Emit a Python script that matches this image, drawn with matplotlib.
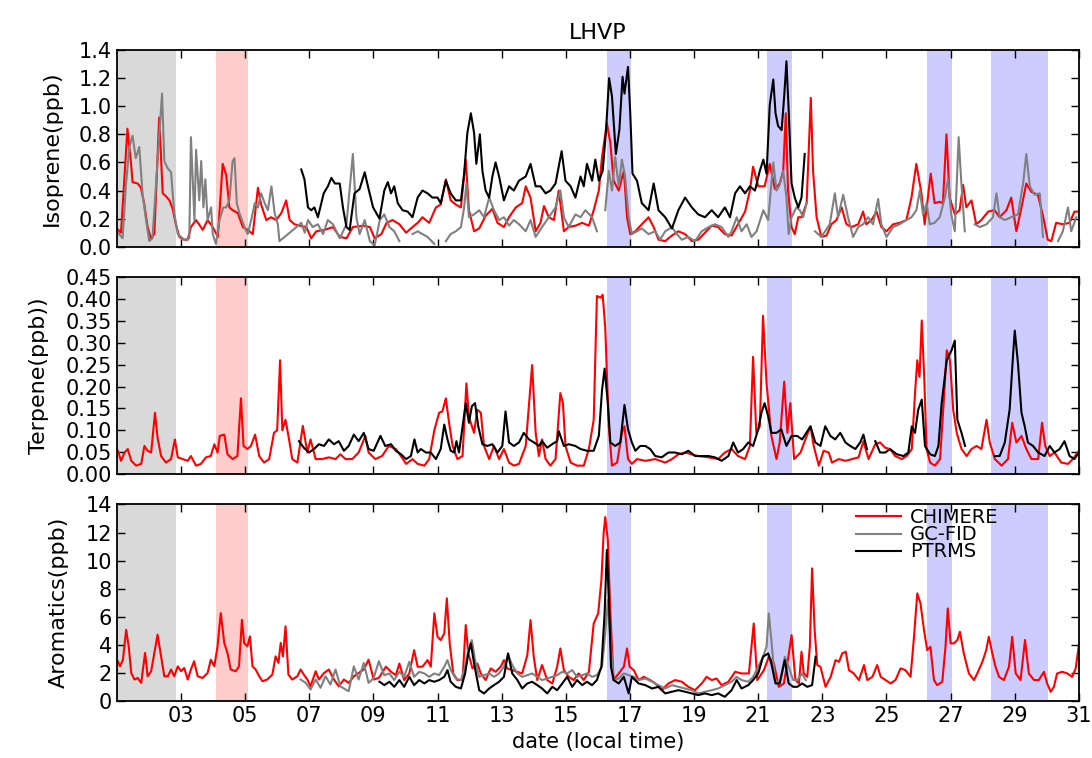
import matplotlib.pyplot as plt
import numpy as np

nan = float('nan')

# ---- Isoprene (top panel) ----
iso_chim_t = [1.0, 1.13, 1.33, 1.44, 1.49, 1.65, 1.75, 1.85, 1.96, 2.06, 2.17, 2.32, 2.43, 2.53, 2.64, 2.74,
              2.84, 2.95, 3.10, 3.21, 3.31, 3.47, 3.68, 3.83, 3.99, 4.15, 4.30, 4.41, 4.51, 4.61, 4.77, 4.93,
              5.08, 5.24, 5.40, 5.50, 5.66, 5.81, 5.97, 6.13, 6.28, 6.39, 6.54, 6.70, 6.91, 7.06, 7.22, 7.48,
              7.74, 7.95, 8.16, 8.36, 8.68, 8.89, 9.04, 9.25, 9.41, 9.60, 9.81, 10.02, 10.22, 10.38, 10.53,
              10.74, 10.95, 11.10, 11.26, 11.41, 11.57, 11.73, 11.88, 11.98, 12.14, 12.30, 12.50, 12.71, 12.87,
              13.07, 13.23, 13.44, 13.64, 13.75, 13.90, 14.06, 14.21, 14.32, 14.47, 14.63, 14.78, 14.94, 15.09,
              15.30, 15.51, 15.72, 15.87, 16.03, 16.13, 16.28, 16.39, 16.49, 16.65, 16.81, 16.91, 17.01, 17.17,
              17.37, 17.58, 17.74, 17.89, 18.10, 18.31, 18.51, 18.72, 18.93, 19.13, 19.34, 19.55, 19.75, 19.96,
              20.17, 20.37, 20.59, 20.74, 20.84, 21.0, 21.2, 21.36, 21.52, 21.67, 21.78, 21.86, 21.93, 22.04,
              22.14, 22.25, 22.35, 22.51, 22.64, 22.71, 22.82, 22.97, 23.13, 23.28, 23.44, 23.60, 23.75, 23.91,
              24.12, 24.27, 24.37, 24.53, 24.69, 24.84, 25.0, 25.21, 25.41, 25.62, 25.78, 25.93, 26.09, 26.19,
              26.38, 26.50, 26.66, 26.76, 26.87, 26.97, 27.13, 27.28, 27.39, 27.49, 27.65, 27.80, 27.96, 28.17,
              28.37, 28.53, 28.74, 28.89, 29.05, 29.21, 29.36, 29.52, 29.72, 29.88, 30.03, 30.14, 30.29, 30.50,
              30.71, 30.86, 31.0]
iso_chim_v = [0.13, 0.10, 0.84, 0.60, 0.46, 0.45, 0.42, 0.31, 0.14, 0.06, 0.09, 0.92, 0.38, 0.36, 0.33, 0.27,
              0.16, 0.07, 0.05, 0.05, 0.14, 0.19, 0.12, 0.19, 0.14, 0.07, 0.59, 0.51, 0.28, 0.26, 0.24, 0.14,
              0.12, 0.09, 0.42, 0.30, 0.19, 0.21, 0.19, 0.24, 0.33, 0.19, 0.16, 0.15, 0.14, 0.06, 0.11, 0.12,
              0.14, 0.07, 0.06, 0.14, 0.15, 0.14, 0.06, 0.09, 0.17, 0.19, 0.16, 0.10, 0.14, 0.17, 0.21,
              0.17, 0.28, 0.30, 0.48, 0.33, 0.30, 0.28, 0.62, 0.26, 0.11, 0.13, 0.22, 0.27, 0.17,
              0.14, 0.21, 0.28, 0.31, 0.43, 0.35, 0.11, 0.17, 0.29, 0.21, 0.19, 0.40, 0.11, 0.14,
              0.15, 0.17, 0.15, 0.26, 0.40, 0.64, 0.88, 0.74, 0.47, 0.40, 0.54, 0.21, 0.09, 0.11,
              0.16, 0.21, 0.14, 0.05, 0.04, 0.08, 0.11, 0.09, 0.04, 0.05, 0.10, 0.15, 0.14, 0.09,
              0.08, 0.16, 0.25, 0.40, 0.57, 0.43, 0.43, 0.59, 0.41, 0.45, 0.54, 0.95, 0.40, 0.14,
              0.09, 0.21, 0.21, 0.31, 1.06, 0.54, 0.21, 0.07, 0.08, 0.16, 0.19, 0.28, 0.16, 0.14,
              0.16, 0.25, 0.16, 0.19, 0.25, 0.14, 0.11, 0.16, 0.17, 0.19, 0.35, 0.59, 0.38, 0.16,
              0.52, 0.31, 0.32, 0.31, 0.80, 0.35, 0.23, 0.26, 0.44, 0.28, 0.33, 0.16, 0.19, 0.25,
              0.26, 0.21, 0.26, 0.35, 0.11, 0.28, 0.45, 0.39, 0.37, 0.22, 0.05, 0.04, 0.17, 0.16,
              0.17, 0.25, 0.25]

iso_gc_t = [1.0, 1.18, 1.28, 1.39, 1.49, 1.59, 1.70, 1.80, 1.91, 2.01, 2.11, 2.27, 2.41, 2.48, 2.58, 2.69,
            2.79, 2.90, 3.10, 3.26, 3.31, 3.42, 3.47, 3.57, 3.63, 3.70, 3.76, 3.83, 3.94, 3.99, 4.09, 4.20,
            4.32, 4.41, 4.51, 4.61, 4.67, 4.74, 4.82, 4.98, 5.08, 5.19, 5.30, 5.40, 5.50, 5.61, 5.71, 5.82,
            5.92, 6.02, 6.07, 6.18, 6.60, 6.75, 6.86, 6.96, 7.11, 7.27, 7.43, 7.58, 7.74, 7.95, 8.16, 8.36,
            8.47, 8.57, 8.73, 8.89, 9.04, 9.20, 9.34, 9.50, 9.65, 9.81, 10.0, 10.22, 10.38, 10.53, 10.69,
            10.90, 11.1, 11.26, 11.41, 11.57, 11.73, 11.83, 11.90, 11.98, 12.14, 12.30, 12.45, 12.61, 12.76,
            12.92, 13.07, 13.23, 13.38, 13.54, 13.75, 13.90, 14.06, 14.26, 14.47, 14.68, 14.83, 14.94, 15.09,
            15.30, 15.46, 15.61, 15.82, 15.97, 16.1, 16.23, 16.34, 16.44, 16.54, 16.65, 16.75, 16.85, 16.96,
            17.06, 17.22, 17.37, 17.58, 17.79, 17.94, 18.10, 18.31, 18.46, 18.62, 18.82, 19.03, 19.24, 19.45,
            19.65, 19.86, 20.07, 20.17, 20.33, 20.48, 20.64, 20.79, 20.95, 21.16, 21.31, 21.47, 21.57, 21.67,
            21.78, 21.88, 21.95, 22.04, 22.19, 22.30, 22.40, 22.51, 22.65, 22.77, 22.97, 23.23, 23.39, 23.49,
            23.65, 23.80, 23.96, 24.12, 24.27, 24.43, 24.58, 24.74, 24.84, 25.0, 25.21, 25.41, 25.62, 25.78,
            25.93, 26.04, 26.14, 26.25, 26.35, 26.50, 26.66, 26.82, 26.92, 27.02, 27.13, 27.25, 27.33, 27.44,
            27.6, 27.75, 27.91, 28.12, 28.32, 28.43, 28.53, 28.69, 28.89, 29.10, 29.26, 29.36, 29.47, 29.62,
            29.78, 29.88, 30.1, 30.35, 30.50, 30.66, 30.76, 30.92]
iso_gc_v = [0.11, 0.06, 0.43, 0.71, 0.79, 0.63, 0.71, 0.38, 0.19, 0.04, 0.06, 0.61, 1.09, 0.61, 0.56, 0.53,
            0.24, 0.09, 0.05, 0.06, 0.78, 0.19, 0.69, 0.33, 0.61, 0.28, 0.48, 0.19, 0.28, 0.09, 0.02, 0.19,
            0.28, 0.28, 0.33, 0.61, 0.63, 0.31, 0.24, 0.14, 0.09, 0.19, 0.31, 0.28, 0.38, 0.31, 0.26, 0.43,
            0.24, 0.16, 0.04, 0.06, 0.14, 0.17, 0.10, 0.19, 0.14, 0.16, 0.09, 0.19, 0.16, 0.06, 0.16, 0.66,
            0.21, 0.09, 0.19, 0.04, 0.01, 0.19, 0.23, 0.14, 0.11, 0.04, nan, 0.09, 0.11, 0.09, 0.07,
            0.02, nan, 0.04, 0.09, 0.11, 0.14, 0.28, 0.45, 0.21, 0.23, 0.26, 0.21, 0.35, 0.26,
            0.19, 0.21, 0.15, 0.19, 0.16, 0.11, 0.19, 0.07, 0.14, 0.21, 0.28, 0.40, 0.21, 0.14,
            0.23, 0.21, 0.26, 0.21, 0.11, nan, 0.26, 0.54, 0.40, 0.64, 0.43, 0.62, 0.50, 0.21,
            0.09, 0.11, 0.13, 0.09, 0.11, 0.05, 0.11, 0.14, 0.09, 0.05, 0.07, 0.04, 0.11, 0.14,
            0.16, 0.14, 0.07, 0.11, 0.21, 0.11, 0.16, 0.07, 0.11, 0.26, 0.19, 0.60, 0.40, 0.44,
            0.54, 0.35, 0.09, 0.21, 0.28, 0.26, 0.21, 0.31, nan, 0.11, 0.07, 0.16, 0.38, 0.21,
            0.37, 0.21, 0.07, 0.14, 0.16, 0.21, 0.16, 0.34, 0.16, 0.07, 0.14, 0.16, 0.19, 0.21,
            0.26, 0.40, 0.23, 0.31, 0.16, 0.17, 0.21, 0.35, 0.48, 0.23, 0.11, 0.78, 0.47, 0.11,
            nan, 0.16, 0.14, 0.16, 0.21, 0.38, 0.21, 0.19, 0.21, 0.23, 0.45, 0.66, 0.43, 0.37,
            0.38, 0.07, nan, 0.04, 0.11, 0.28, 0.11, 0.21]

iso_ptr_t = [6.75, 6.85, 6.96, 7.06, 7.16, 7.27, 7.45, 7.58, 7.69, 7.80, 7.95, 8.05, 8.16, 8.26, 8.41, 8.57,
             8.73, 8.83, 8.99, 9.19, 9.34, 9.45, 9.55, 9.65, 9.76, 9.91, 10.07, 10.22, 10.38, 10.53, 10.69,
             10.84, 11.0, 11.1, 11.26, 11.41, 11.57, 11.73, 11.83, 11.93, 12.04, 12.14, 12.21, 12.32, 12.40,
             12.50, 12.61, 12.71, 12.81, 12.92, 13.07, 13.23, 13.38, 13.54, 13.75, 13.90, 14.06, 14.21, 14.37,
             14.52, 14.68, 14.87, 14.99, 15.15, 15.30, 15.46, 15.56, 15.66, 15.82, 15.92, 16.03, 16.15, 16.25,
             16.35, 16.44, 16.56, 16.67, 16.77, 16.83, 16.94, 17.01, 17.08, 17.22, 17.37, 17.58, 17.74, 17.89,
             18.10, 18.31, 18.51, 18.72, 18.93, 19.13, 19.34, 19.55, 19.75, 19.96, 20.12, 20.28, 20.43, 20.59,
             20.74, 20.90, 21.05, 21.16, 21.26, 21.36, 21.47, 21.54, 21.62, 21.73, 21.81, 21.88, 21.95, 22.04,
             22.14, 22.25, 22.35, 22.45]
iso_ptr_v = [0.55, 0.48, 0.28, 0.26, 0.28, 0.21, 0.38, 0.43, 0.49, 0.45, 0.45, 0.28, 0.14, 0.12, 0.38, 0.41,
             0.53, 0.43, 0.28, 0.20, 0.40, 0.46, 0.38, 0.43, 0.31, 0.26, 0.25, 0.21, 0.35, 0.40, 0.38,
             0.35, 0.35, 0.31, 0.47, 0.38, 0.33, 0.33, 0.52, 0.81, 0.95, 0.81, 0.59, 0.80, 0.54,
             0.40, 0.35, 0.50, 0.60, 0.50, 0.33, 0.43, 0.40, 0.47, 0.50, 0.59, 0.43, 0.43, 0.38,
             0.40, 0.45, 0.68, 0.47, 0.43, 0.35, 0.50, 0.43, 0.59, 0.47, 0.62, 0.47, 0.54, 0.81,
             1.20, 1.07, 0.66, 0.83, 1.21, 1.09, 1.28, 0.95, 0.52, 0.47, 0.31, 0.26, 0.45, 0.26,
             0.21, 0.13, 0.26, 0.35, 0.28, 0.23, 0.21, 0.26, 0.21, 0.28, 0.21, 0.38, 0.43, 0.38,
             0.43, 0.40, 0.54, 0.62, 0.52, 1.01, 1.19, 0.95, 0.86, 0.83, 1.07, 1.32, 0.97, 0.45,
             0.35, 0.28, 0.35, 0.66]

# ---- Terpene (middle panel) ----
ter_chim_t = [1.03, 1.13, 1.24, 1.34, 1.45, 1.60, 1.76, 1.86, 1.96, 2.07, 2.19, 2.27, 2.38, 2.53, 2.69, 2.81,
              2.90, 3.05, 3.21, 3.31, 3.47, 3.62, 3.78, 3.93, 4.04, 4.14, 4.21, 4.35, 4.45, 4.61, 4.76, 4.87,
              4.95, 5.07, 5.18, 5.31, 5.44, 5.59, 5.75, 5.90, 6.0, 6.09, 6.16, 6.26, 6.37, 6.47, 6.63, 6.80,
              6.94, 7.04, 7.20, 7.40, 7.61, 7.82, 7.97, 8.13, 8.34, 8.54, 8.75, 8.85, 9.06, 9.27, 9.48, 9.70,
              9.86, 10.02, 10.22, 10.38, 10.59, 10.74, 10.90, 11.05, 11.15, 11.26, 11.36, 11.47, 11.62, 11.78,
              11.90, 11.98, 12.14, 12.24, 12.35, 12.45, 12.61, 12.76, 12.92, 13.07, 13.23, 13.38, 13.54, 13.75,
              13.85, 13.95, 14.06, 14.16, 14.26, 14.37, 14.52, 14.68, 14.83, 14.91, 14.99, 15.15, 15.35, 15.56,
              15.72, 15.87, 15.97, 16.08, 16.15, 16.23, 16.34, 16.44, 16.60, 16.75, 16.83, 16.94, 17.06, 17.22,
              17.48, 17.79, 18.10, 18.31, 18.51, 18.72, 18.93, 19.13, 19.45, 19.75, 19.96, 20.17, 20.37, 20.59,
              20.74, 20.84, 20.94, 21.05, 21.15, 21.26, 21.41, 21.57, 21.67, 21.81, 21.91, 22.0, 22.12, 22.32,
              22.47, 22.63, 22.73, 22.89, 23.04, 23.20, 23.30, 23.51, 23.72, 23.92, 24.13, 24.28, 24.44, 24.65,
              24.80, 24.96, 25.11, 25.27, 25.48, 25.63, 25.79, 25.89, 25.96, 26.03, 26.10, 26.18, 26.25, 26.36,
              26.51, 26.67, 26.77, 26.88, 26.98, 27.08, 27.19, 27.34, 27.50, 27.65, 27.81, 27.96, 28.12, 28.22,
              28.38, 28.59, 28.79, 28.92, 29.05, 29.21, 29.36, 29.52, 29.73, 29.85, 29.95, 30.09, 30.24, 30.45,
              30.66, 30.81, 31.0]
ter_chim_v = [0.053, 0.030, 0.049, 0.057, 0.030, 0.019, 0.023, 0.064, 0.053, 0.049, 0.140, 0.083, 0.041, 0.026,
              0.034, 0.079, 0.038, 0.034, 0.030, 0.041, 0.019, 0.023, 0.038, 0.041, 0.068, 0.049, 0.087, 0.090,
              0.045, 0.034, 0.041, 0.173, 0.064, 0.057, 0.064, 0.090, 0.041, 0.026, 0.034, 0.094, 0.100, 0.260,
              0.100, 0.124, 0.079, 0.034, 0.026, 0.110, 0.049, 0.079, 0.034, 0.034, 0.038, 0.034, 0.045, 0.034,
              0.034, 0.049, 0.087, 0.049, 0.034, 0.041, 0.064, 0.057, 0.041, 0.023, 0.034, 0.023, 0.019, 0.034,
              0.100, 0.140, 0.143, 0.173, 0.117, 0.064, 0.034, 0.041, 0.207, 0.130, 0.094, 0.147, 0.140, 0.064,
              0.034, 0.064, 0.034, 0.057, 0.026, 0.019, 0.023, 0.064, 0.155, 0.249, 0.094, 0.041, 0.079, 0.034,
              0.019, 0.034, 0.185, 0.162, 0.064, 0.026, 0.019, 0.019, 0.057, 0.124, 0.407, 0.403, 0.410, 0.335,
              0.109, 0.019, 0.026, 0.094, 0.109, 0.034, 0.023, 0.034, 0.030, 0.034, 0.026, 0.034, 0.045, 0.049,
              0.045, 0.041, 0.038, 0.034, 0.049, 0.057, 0.041, 0.034, 0.064, 0.268, 0.094, 0.109, 0.362, 0.207,
              0.087, 0.034, 0.072, 0.211, 0.094, 0.162, 0.034, 0.049, 0.079, 0.109, 0.064, 0.019, 0.053, 0.049,
              0.026, 0.034, 0.030, 0.034, 0.038, 0.075, 0.034, 0.068, 0.072, 0.060, 0.057, 0.041, 0.034, 0.041,
              0.057, 0.185, 0.260, 0.222, 0.351, 0.215, 0.057, 0.026, 0.019, 0.034, 0.147, 0.283, 0.260, 0.147,
              0.094, 0.057, 0.041, 0.057, 0.064, 0.057, 0.124, 0.072, 0.034, 0.019, 0.034, 0.117, 0.072, 0.087,
              0.057, 0.034, 0.034, 0.117, 0.064, 0.041, 0.049, 0.026, 0.023, 0.034, 0.053]

ter_ptr_t = [6.68, 6.83, 6.99, 7.15, 7.30, 7.46, 7.61, 7.77, 7.92, 8.08, 8.23, 8.39, 8.54, 8.70, 8.85, 9.01,
             9.22, 9.37, 9.55, 9.70, 9.86, 10.02, 10.17, 10.28, 10.38, 10.48, 10.64, 10.79, 10.95, 11.10, 11.21,
             11.31, 11.41, 11.52, 11.59, 11.67, 11.78, 11.88, 11.98, 12.07, 12.17, 12.27, 12.40, 12.55, 12.71,
             12.87, 13.02, 13.12, 13.23, 13.38, 13.54, 13.69, 13.85, 14.01, 14.16, 14.26, 14.42, 14.57, 14.73,
             14.78, 14.94, 15.09, 15.30, 15.46, 15.66, 15.87, 16.03, 16.13, 16.21, 16.31, 16.39, 16.54, 16.70,
             16.83, 16.94, 17.06, 17.17, 17.32, 17.48, 17.63, 17.79, 17.99, 18.20, 18.41, 18.62, 18.82, 19.03,
             19.24, 19.45, 19.65, 19.86, 20.07, 20.22, 20.37, 20.53, 20.69, 20.84, 21.0, 21.10, 21.2, 21.31,
             21.41, 21.57, 21.72, 21.88, 22.04, 22.21, 22.37, 22.63, 22.78, 22.94, 23.09, 23.25, 23.40, 23.56,
             23.72, 23.87, 24.03, 24.18, 24.28, 24.39, 24.5, 24.65, 24.80, 24.96, 25.11, 25.32, 25.53, 25.68,
             25.79, 25.89, 25.99, 26.10, 26.20, 26.36, 26.51, 26.62, 26.72, 26.88, 27.03, 27.13, 27.21, 27.34,
             27.45, 28.0, 28.38, 28.53, 28.69, 28.84, 28.95, 29.0, 29.10, 29.21, 29.31, 29.41, 29.57, 29.73,
             29.93, 30.09, 30.24, 30.40, 30.55, 30.71, 30.86, 31.0]
ter_ptr_v = [0.075, 0.060, 0.049, 0.057, 0.068, 0.064, 0.079, 0.068, 0.075, 0.053, 0.064, 0.090, 0.075, 0.094,
             0.057, 0.053, 0.087, 0.064, 0.068, 0.053, 0.045, 0.034, 0.041, 0.079, 0.049, 0.057, 0.049, 0.049,
             0.034, 0.057, 0.113, 0.079, 0.053, 0.049, 0.075, 0.049, 0.109, 0.162, 0.117, 0.155, 0.162, 0.109,
             0.068, 0.064, 0.068, 0.049, 0.064, 0.143, 0.072, 0.064, 0.072, 0.094, 0.079, 0.072, 0.064, 0.075,
             0.060, 0.068, 0.075, 0.098, 0.064, 0.068, 0.064, 0.057, 0.053, 0.053, 0.087, 0.192, 0.241, 0.162,
             0.072, 0.064, 0.072, 0.158, 0.102, 0.072, 0.053, 0.064, 0.064, 0.057, 0.041, 0.038, 0.049, 0.049,
             0.045, 0.053, 0.041, 0.041, 0.041, 0.038, 0.030, 0.041, 0.072, 0.049, 0.057, 0.072, 0.064, 0.102,
             0.140, 0.162, 0.132, 0.094, 0.094, 0.102, 0.064, 0.087, 0.087, 0.079, 0.109, 0.072, 0.064, 0.109,
             0.087, 0.079, 0.094, 0.072, 0.064, 0.057, 0.072, 0.090, 0.057, nan, 0.075, 0.049, 0.049, 0.057,
             0.045, 0.041, 0.049, 0.109, 0.094, 0.147, 0.170, 0.064, 0.045, 0.041, 0.064, 0.162, 0.260, 0.283,
             0.305, 0.124, 0.094, 0.064, nan, 0.041, 0.041, 0.072, 0.147, 0.275, 0.328, 0.253, 0.140, 0.109,
             0.072, 0.064, 0.049, 0.041, 0.064, 0.049, 0.057, 0.075, 0.041, 0.034, 0.049]

# ---- Aromatics (bottom panel) ----
aro_chim_t = [1.03, 1.10, 1.19, 1.29, 1.37, 1.45, 1.55, 1.65, 1.76, 1.88, 1.96, 2.07, 2.17, 2.27, 2.38, 2.48,
              2.59, 2.69, 2.79, 2.90, 3.0, 3.10, 3.21, 3.31, 3.41, 3.52, 3.67, 3.83, 3.93, 4.04, 4.14, 4.24,
              4.35, 4.45, 4.55, 4.71, 4.81, 4.90, 4.97, 5.07, 5.15, 5.23, 5.33, 5.44, 5.54, 5.69, 5.85, 5.95,
              6.04, 6.11, 6.18, 6.26, 6.35, 6.47, 6.63, 6.73, 6.83, 6.94, 7.04, 7.20, 7.30, 7.46, 7.61, 7.77,
              7.92, 8.08, 8.23, 8.39, 8.54, 8.70, 8.85, 9.01, 9.17, 9.39, 9.55, 9.70, 9.81, 9.96, 10.12, 10.27,
              10.38, 10.53, 10.69, 10.79, 10.90, 11.0, 11.10, 11.21, 11.29, 11.38, 11.49, 11.62, 11.78, 11.88,
              11.96, 12.09, 12.24, 12.35, 12.50, 12.66, 12.81, 12.97, 13.07, 13.17, 13.33, 13.49, 13.64, 13.80,
              13.90, 14.0, 14.11, 14.26, 14.42, 14.58, 14.73, 14.83, 14.94, 15.09, 15.25, 15.40, 15.56, 15.72,
              15.87, 16.01, 16.11, 16.18, 16.23, 16.31, 16.39, 16.49, 16.65, 16.81, 16.91, 16.99, 17.12, 17.27,
              17.43, 17.63, 17.79, 17.99, 18.20, 18.41, 18.62, 18.82, 19.03, 19.24, 19.39, 19.55, 19.70, 19.86,
              20.07, 20.28, 20.48, 20.71, 20.86, 20.97, 21.18, 21.33, 21.49, 21.64, 21.80, 21.94, 22.04, 22.16,
              22.27, 22.35, 22.42, 22.53, 22.61, 22.68, 22.76, 22.84, 22.94, 23.10, 23.26, 23.41, 23.52, 23.62,
              23.73, 23.83, 23.98, 24.14, 24.30, 24.40, 24.56, 24.71, 24.82, 24.97, 25.13, 25.28, 25.44, 25.59,
              25.75, 25.85, 25.96, 26.06, 26.17, 26.27, 26.37, 26.48, 26.58, 26.74, 26.84, 26.91, 27.0, 27.10,
              27.21, 27.29, 27.41, 27.57, 27.73, 27.83, 27.99, 28.11, 28.19, 28.30, 28.40, 28.51, 28.66, 28.82,
              28.92, 29.03, 29.18, 29.32, 29.44, 29.60, 29.75, 29.91, 30.01, 30.12, 30.22, 30.32, 30.48, 30.64,
              30.79, 30.90, 31.0]
aro_chim_v = [2.84, 2.48, 2.95, 5.08, 3.90, 2.00, 1.54, 1.65, 1.30, 3.43, 1.77, 2.13, 3.43, 4.73, 3.19, 1.77,
              1.77, 2.25, 1.77, 2.48, 2.13, 2.36, 1.54, 2.25, 2.84, 1.77, 1.65, 2.00, 2.95, 2.48, 3.90, 6.26,
              4.14, 3.43, 2.25, 2.13, 2.48, 5.79, 4.14, 3.90, 4.61, 2.48, 2.25, 1.77, 1.42, 1.54, 1.89, 3.19,
              2.72, 4.14, 3.19, 5.32, 1.89, 1.54, 1.77, 2.25, 1.89, 1.54, 1.06, 2.13, 1.54, 2.00, 2.25, 1.54,
              1.06, 1.54, 1.30, 1.77, 2.00, 2.25, 2.95, 1.54, 1.65, 2.45, 2.09, 1.85, 2.68, 1.50, 1.97, 3.63,
              2.45, 2.45, 2.92, 2.45, 6.25, 4.58, 4.35, 4.82, 7.32, 4.11, 1.97, 1.50, 1.50, 5.42,
              3.40, 2.33, 2.68, 1.97, 1.50, 2.33, 2.09, 2.45, 2.92, 2.33, 2.21, 2.09, 1.97, 3.28,
              5.77, 3.16, 1.50, 2.57, 1.50, 1.26, 2.45, 3.75, 2.21, 1.73, 1.50, 1.97, 1.50, 2.09,
              5.53, 6.25, 8.62, 11.95, 13.10, 11.47, 6.25, 1.50, 1.97, 2.45, 3.75, 2.45, 2.21, 1.50,
              1.73, 1.50, 1.26, 0.78, 1.26, 1.50, 1.38, 1.02, 0.78, 1.26, 1.73, 1.50, 1.61, 1.14,
              1.38, 2.09, 1.97, 1.97, 5.53, 1.50, 2.21, 3.16, 2.68, 1.02, 1.26, 3.16, 4.70, 1.50,
              1.26, 3.52, 1.97, 1.73, 3.87, 9.45, 5.06, 2.57, 2.45, 1.02, 1.73, 2.92, 2.80, 3.40,
              3.52, 2.21, 1.97, 1.50, 2.57, 1.50, 1.73, 2.57, 1.73, 1.50, 1.26, 1.50, 2.33, 2.21,
              1.73, 4.35, 7.67, 6.96, 5.06, 3.63, 3.87, 1.50, 1.14, 1.38, 3.87, 6.60, 4.11, 4.11,
              4.35, 4.94, 3.40, 1.97, 1.50, 1.97, 2.80, 3.63, 4.58, 3.40, 2.45, 1.73, 1.50, 2.45,
              4.58, 1.97, 1.50, 4.35, 1.97, 1.50, 1.50, 2.09, 1.26, 0.67, 1.02, 1.97, 2.09, 1.97,
              1.73, 2.33, 4.00]

aro_gc_t = [6.73, 6.89, 7.04, 7.20, 7.35, 7.51, 7.66, 7.82, 7.97, 8.13, 8.23, 8.39, 8.54, 8.70, 8.85, 9.01,
            9.17, 9.34, 9.50, 9.65, 9.81, 9.96, 10.12, 10.27, 10.43, 10.59, 10.74, 10.90, 11.05, 11.21, 11.31,
            11.41, 11.57, 11.73, 11.86, 11.96, 12.07, 12.17, 12.30, 12.45, 12.61, 12.76, 12.92, 13.07, 13.20,
            13.33, 13.49, 13.64, 13.80, 13.95, 14.11, 14.26, 14.42, 14.58, 14.73, 14.89, 15.04, 15.20, 15.35,
            15.51, 15.66, 15.82, 15.97, 16.13, 16.23, 16.31, 16.39, 16.49, 16.65, 16.81, 16.96, 17.12, 17.27,
            17.48, 17.69, 17.89, 18.10, 18.31, 18.51, 18.72, 18.93, 19.13, 19.34, 19.55, 19.75, 19.96, 20.17,
            20.33, 20.48, 20.69, 20.84, 21.0, 21.15, 21.26, 21.33, 21.41, 21.52, 21.67, 21.83, 21.95, 22.09,
            22.22, 22.37, 22.48]
aro_gc_v = [1.54, 1.30, 0.83, 1.54, 0.95, 1.77, 1.18, 2.25, 1.06, 0.83, 0.71, 2.48, 1.54, 2.72, 1.30, 1.65,
            2.84, 1.85, 1.97, 1.50, 2.09, 1.73, 2.80, 1.73, 2.09, 1.97, 1.73, 1.97, 1.85, 2.45, 2.92,
            2.21, 1.61, 1.50, 2.45, 3.63, 4.35, 2.92, 1.73, 1.85, 1.97, 1.73, 1.97, 2.45, 3.28,
            2.57, 1.97, 1.73, 1.85, 1.97, 1.73, 1.50, 1.61, 1.73, 1.85, 2.09, 1.97, 2.21, 1.73,
            1.85, 1.97, 1.73, 1.85, 2.45, 4.82, 7.20, 4.35, 1.50, 1.61, 1.97, 1.85, 1.73, 1.50,
            1.61, 1.38, 1.14, 0.90, 1.14, 1.02, 0.90, 0.78, 0.55, 0.67, 0.78, 0.90, 1.14, 1.38,
            1.73, 1.50, 1.38, 1.73, 2.45, 3.16, 3.87, 6.25, 4.35, 1.50, 1.26, 3.16, 2.45, 1.50,
            1.50, 1.97, 1.50]

aro_ptr_t = [9.19, 9.34, 9.50, 9.65, 9.81, 9.96, 10.12, 10.27, 10.43, 10.59, 10.74, 10.90, 11.05, 11.21, 11.31,
             11.41, 11.57, 11.73, 11.86, 11.96, 12.04, 12.14, 12.30, 12.45, 12.61, 12.76, 12.92, 13.07, 13.20,
             13.33, 13.49, 13.64, 13.80, 13.95, 14.11, 14.26, 14.42, 14.58, 14.73, 14.89, 15.04, 15.20, 15.35,
             15.51, 15.66, 15.82, 15.97, 16.11, 16.21, 16.28, 16.34, 16.41, 16.49, 16.65, 16.81, 16.96, 17.06,
             17.27, 17.48, 17.69, 17.89, 18.10, 18.31, 18.51, 18.72, 18.93, 19.13, 19.34, 19.55, 19.75, 19.96,
             20.17, 20.33, 20.48, 20.69, 20.84, 21.0, 21.15, 21.31, 21.41, 21.54, 21.67, 21.83, 21.95, 22.09,
             22.22, 22.37, 22.53, 22.68, 22.79]
aro_ptr_v = [1.38, 1.14, 1.38, 1.02, 1.50, 1.02, 1.73, 1.14, 1.50, 1.26, 1.50, 1.38, 1.50, 1.73, 2.21,
             1.38, 1.02, 0.90, 1.97, 3.40, 4.11, 2.68, 0.78, 0.55, 0.90, 1.14, 1.38, 1.73, 3.40,
             1.97, 1.50, 0.90, 1.26, 1.38, 1.14, 0.90, 0.55, 1.02, 0.78, 1.26, 1.73, 1.02, 1.50,
             1.14, 1.38, 1.14, 1.50, 2.45, 6.25, 10.76, 7.43, 2.45, 1.50, 1.26, 1.73, 0.55, 1.73,
             1.26, 1.14, 0.90, 1.02, 0.55, 0.67, 0.78, 0.67, 0.55, 0.43, 0.55, 0.43, 0.55, 0.31,
             0.78, 1.50, 0.90, 1.14, 1.50, 1.97, 3.16, 3.40, 2.68, 1.26, 1.26, 2.92, 1.26, 1.02,
             1.02, 1.26, 1.02, 1.14, 3.16]

# shaded periods (start, end, colour)
spans = [(1.0, 2.86, '#d9d9d9'), (4.08, 5.09, '#ffcccc'), (16.27, 17.02, '#ccccff'),
         (21.26, 22.04, '#ccccff'), (26.26, 27.03, '#ccccff'), (28.26, 30.04, '#ccccff')]

xticks = list(range(3, 32, 2))

fig = plt.figure(figsize=(10.92, 7.58), dpi=100)
axes = fig.subplots(3, 1, sharex=True)
fig.subplots_adjust(left=0.107, right=0.988, top=0.934, bottom=0.075, hspace=0.155)

panels = [
    (axes[0], iso_chim_t, iso_chim_v, iso_gc_t, iso_gc_v, iso_ptr_t, iso_ptr_v, 'Isoprene(ppb)',
     (0, 1.4), np.arange(0, 1.41, 0.2), '%.1f'),
    (axes[1], ter_chim_t, ter_chim_v, None, None, ter_ptr_t, ter_ptr_v, 'Terpene(ppb))',
     (0, 0.45), np.arange(0, 0.451, 0.05), '%.2f'),
    (axes[2], aro_chim_t, aro_chim_v, aro_gc_t, aro_gc_v, aro_ptr_t, aro_ptr_v, 'Aromatics(ppb)',
     (0, 14), np.arange(0, 15, 2), '%d'),
]

for ax, ct, cv, gt, gv, pt, pv, ylab, ylim, yt, fmt in panels:
    for a, b, c in spans:
        ax.axvspan(a, b, color=c, lw=0, zorder=0)
    ax.plot(ct, cv, color='red', lw=1.5, label='CHIMERE')
    if gt is not None:
        ax.plot(gt, gv, color='gray', lw=1.5, label='GC-FID')
    else:
        ax.plot([], [], color='gray', lw=1.5, label='GC-FID')
    ax.plot(pt, pv, color='black', lw=1.5, label='PTRMS')
    ax.set_ylim(*ylim)
    ax.set_yticks(yt)
    ax.set_yticklabels([fmt % v for v in yt])
    ax.set_ylabel(ylab, fontsize=16, labelpad=12)
    ax.set_xlim(1, 31)
    ax.set_xticks(xticks)
    ax.tick_params(direction='in', top=True, right=True, length=6, width=1)
    ax.tick_params(axis='y', labelsize=15)
    ax.tick_params(axis='x', labelsize=15)
    for s in ax.spines.values():
        s.set_linewidth(1.3)

axes[2].set_xticklabels(['%02d' % d for d in xticks])
axes[2].set_xlabel('date (local time)', fontsize=15)
axes[0].set_title('LHVP', fontsize=16, pad=8)
axes[2].legend(loc='upper left', bbox_to_anchor=(0.76, 1.02), frameon=False, fontsize=14,
               handlelength=2.3, labelspacing=-0.1, borderaxespad=0, handletextpad=0.5)

fig.savefig('out.png', dpi=100)
